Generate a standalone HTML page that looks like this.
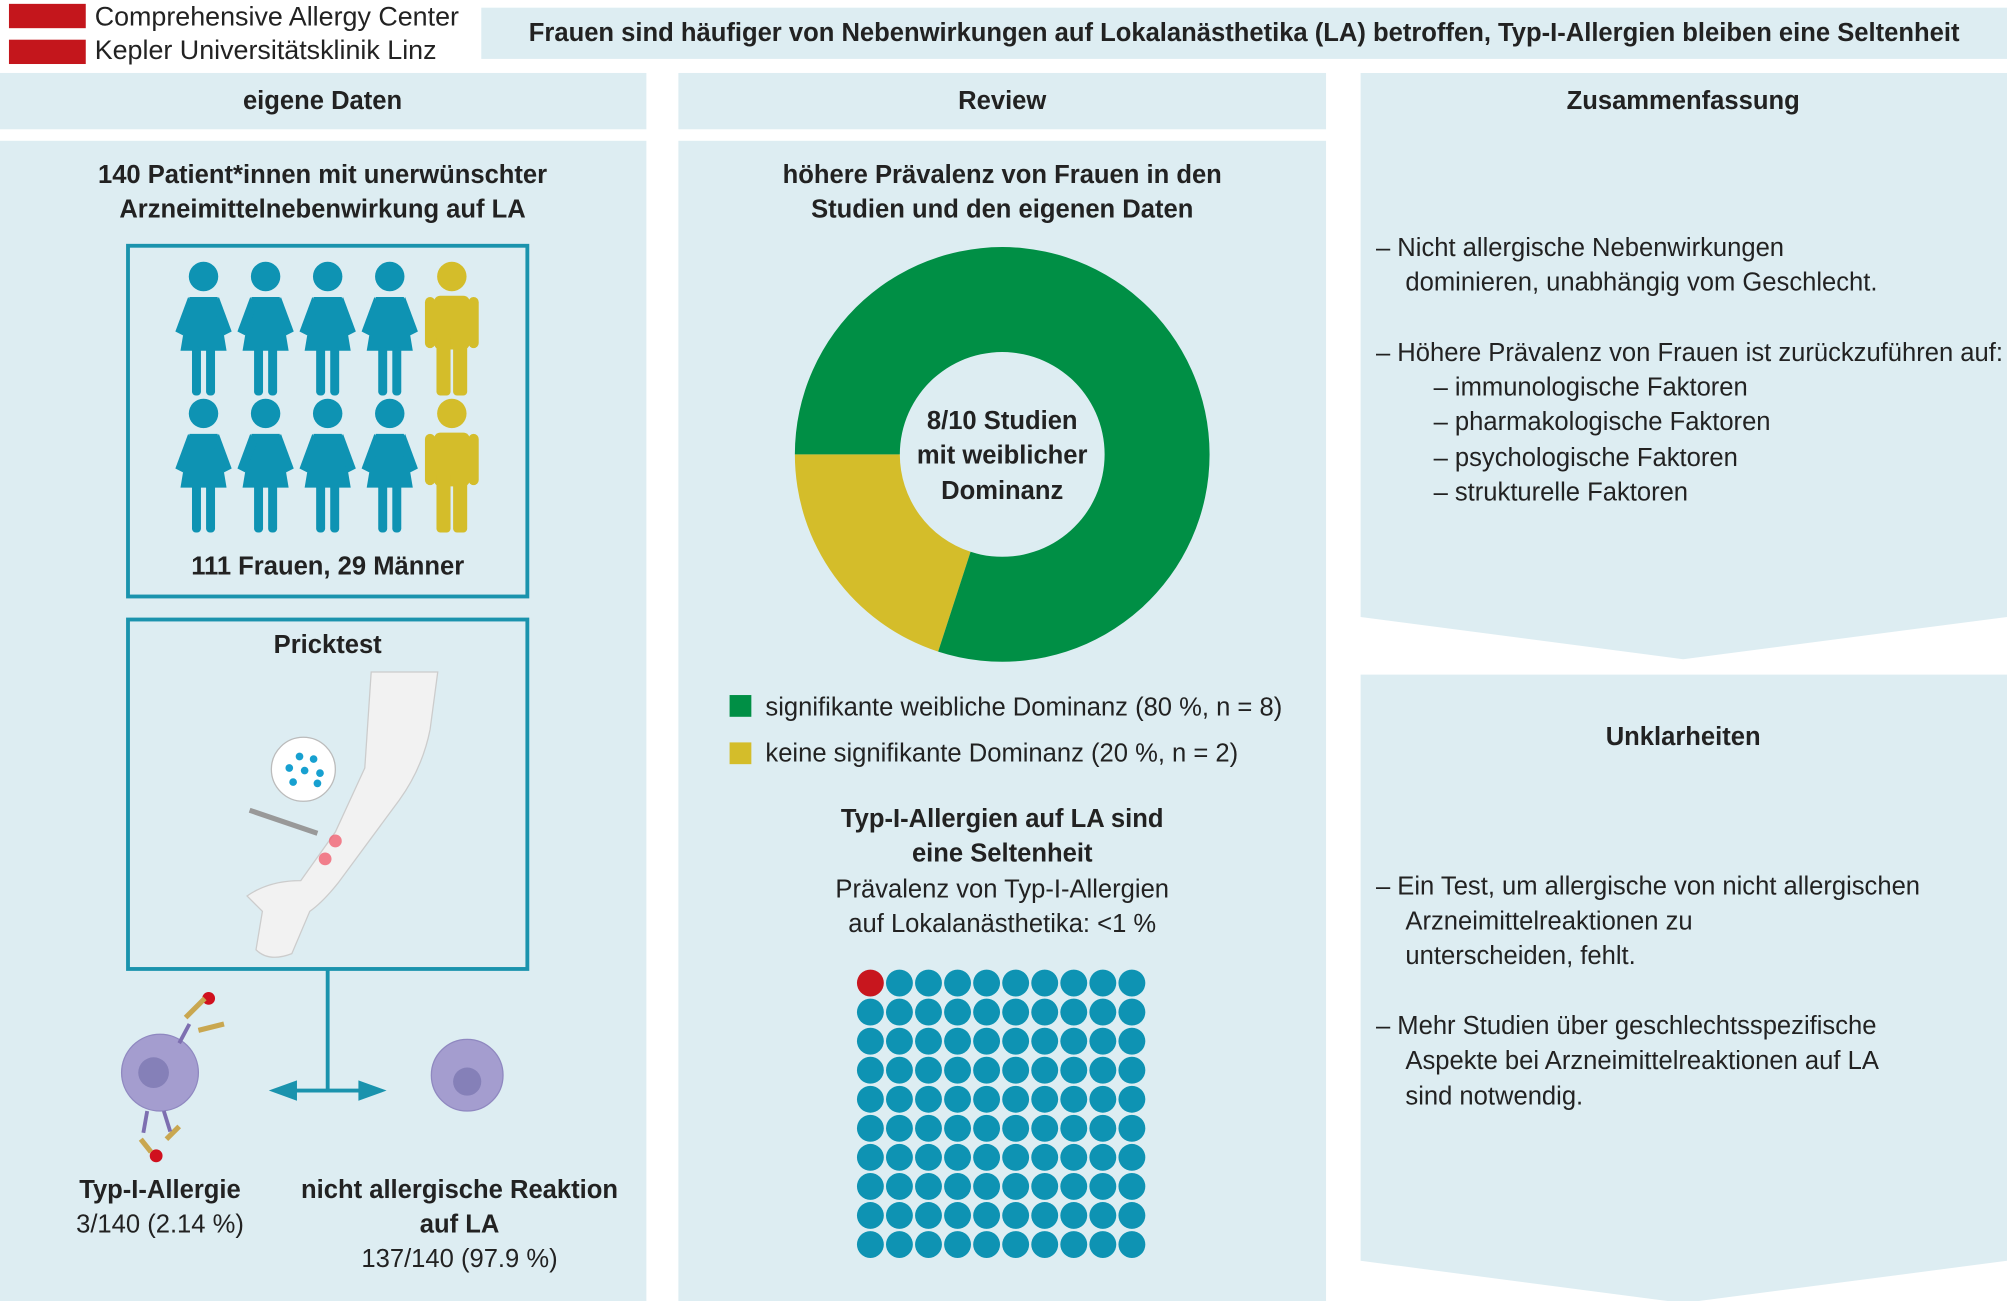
<!DOCTYPE html>
<html><head><meta charset="utf-8"><style>
html,body{margin:0;padding:0;background:#fff;}
svg{display:block;font-family:"Liberation Sans Narrow","Liberation Sans",sans-serif;}
</style></head><body>
<svg id="root" width="2007" height="1301" viewBox="0 0 1568 1016.4" xmlns="http://www.w3.org/2000/svg">
<rect width="1568" height="1017" fill="#fff"/>
<g>
<rect x="7" y="3" width="60" height="19" fill="#c4161c"/>
<rect x="7" y="31" width="60" height="19" fill="#c4161c"/>
<text x="74" y="20" font-size="21" fill="#222">Comprehensive Allergy Center</text>
<text x="74" y="46" font-size="21" fill="#222">Kepler Universitätsklinik Linz</text>
</g>
<rect x="376" y="6" width="1192" height="40" fill="#ddedf2"/>
<text x="972" y="32" font-size="20" text-anchor="middle" fill="#222" font-weight="bold">Frauen sind häufiger von Nebenwirkungen auf Lokalanästhetika (LA) betroffen, Typ-I-Allergien bleiben eine Seltenheit</text>

<rect x="0" y="57" width="505" height="44" fill="#ddedf2"/>
<rect x="0" y="110" width="505" height="907" fill="#ddedf2"/>
<rect x="530" y="57" width="506" height="44" fill="#ddedf2"/>
<rect x="530" y="110" width="506" height="907" fill="#ddedf2"/>
<polygon points="1063,57 1568,57 1568,482 1315,515 1063,482" fill="#ddedf2"/>
<polygon points="1063,527 1568,527 1568,985 1315,1018 1063,985" fill="#ddedf2"/>

<g font-size="20" fill="#222" text-anchor="middle" font-weight="bold">
<text x="252" y="85">eigene Daten</text>
<text x="783" y="85">Review</text>
<text x="1315" y="85">Zusammenfassung</text>
<text x="1315" y="582">Unklarheiten</text>
<text x="252" y="143">140 Patient*innen mit unerwünschter</text>
<text x="252" y="170">Arzneimittelnebenwirkung auf LA</text>
<text x="256" y="449">111 Frauen, 29 Männer</text>
<text x="256" y="510">Pricktest</text>
<text x="125" y="936">Typ-I-Allergie</text>
<text x="359" y="936">nicht allergische Reaktion</text>
<text x="359" y="963">auf LA</text>
<text x="783" y="143">höhere Prävalenz von Frauen in den</text>
<text x="783" y="170">Studien und den eigenen Daten</text>
<text x="783" y="335">8/10 Studien</text>
<text x="783" y="362">mit weiblicher</text>
<text x="783" y="390">Dominanz</text>
<text x="783" y="646">Typ-I-Allergien auf LA sind</text>
<text x="783" y="673">eine Seltenheit</text>
</g>
<g font-size="20" fill="#222" text-anchor="middle">
<text x="125" y="963">3/140 (2.14 %)</text>
<text x="359" y="990">137/140 (97.9 %)</text>
<text x="783" y="701">Prävalenz von Typ-I-Allergien</text>
<text x="783" y="728">auf Lokalanästhetika: &lt;1 %</text>
</g>

<g fill="none" stroke="#1a93ad" stroke-width="3">
<rect x="100" y="192" width="312" height="274"/>
<rect x="100" y="484" width="312" height="273"/>
<line x1="256" y1="757" x2="256" y2="852"/>
<line x1="225" y1="852" x2="288" y2="852"/>
</g>
<polygon points="210,852 232,844 232,860" fill="#1a93ad"/>
<polygon points="302,852 280,844 280,860" fill="#1a93ad"/>
<g id="people"></g>

<g>
<path d="M290,525 L342,525 L336,570 Q330,600 312,625 L264,690 Q252,705 242,712 L228,745 Q210,752 200,742 L205,712 L193,700 Q210,688 235,688 L262,650 L285,600 Z" fill="#f2f2f2" stroke="#ccc" stroke-width="1"/>
<circle cx="237" cy="601" r="25" fill="#fff" stroke="#bbb"/>
<g fill="#17a0d0"><circle cx="234" cy="591" r="3"/><circle cx="245" cy="593" r="3"/><circle cx="226" cy="600" r="3"/><circle cx="238" cy="602" r="3"/><circle cx="250" cy="604" r="3"/><circle cx="229" cy="611" r="3"/><circle cx="248" cy="612" r="3"/></g>
<line x1="195" y1="633" x2="248" y2="651" stroke="#999" stroke-width="4"/>
<circle cx="262" cy="657" r="5" fill="#f06070" opacity="0.8"/>
<circle cx="254" cy="671" r="5" fill="#f06070" opacity="0.8"/>
</g>
<g>
<circle cx="125" cy="838" r="30" fill="#a49dcf" stroke="#8f88c0"/>
<circle cx="120" cy="838" r="12" fill="#8580b8"/>
<circle cx="163" cy="780" r="5" fill="#d0101e"/>
<circle cx="122" cy="903" r="5" fill="#d0101e"/>
<g stroke="#c9a750" stroke-width="4"><line x1="145" y1="795" x2="160" y2="780"/><line x1="155" y1="805" x2="175" y2="800"/><line x1="110" y1="890" x2="118" y2="900"/><line x1="130" y1="890" x2="140" y2="880"/></g>
<g stroke="#7d6fb0" stroke-width="3"><line x1="140" y1="815" x2="148" y2="800"/><line x1="115" y1="868" x2="112" y2="885"/><line x1="128" y1="868" x2="133" y2="884"/></g>
</g>
<g>
<circle cx="365" cy="840" r="28" fill="#a49dcf" stroke="#8f88c0"/>
<circle cx="365" cy="845" r="11" fill="#8580b8"/>
</g>

<g id="donut"></g>
<g>
<rect x="570" y="543" width="17" height="17" fill="#008f45"/>
<rect x="570" y="580" width="17" height="17" fill="#d4bd2a"/>
<text x="598" y="559" font-size="20" fill="#222">signifikante weibliche Dominanz (80 %, n = 8)</text>
<text x="598" y="595" font-size="20" fill="#222">keine signifikante Dominanz (20 %, n = 2)</text>
</g>
<g id="dots"></g>

<g font-size="20" fill="#222">
<text x="1075" y="200">–  Nicht allergische Nebenwirkungen</text>
<text x="1098" y="227">dominieren, unabhängig vom Geschlecht.</text>
<text x="1075" y="282">–  Höhere Prävalenz von Frauen ist zurückzuführen auf:</text>
<text x="1120" y="309">– immunologische Faktoren</text>
<text x="1120" y="336">– pharmakologische Faktoren</text>
<text x="1120" y="364">– psychologische Faktoren</text>
<text x="1120" y="391">– strukturelle Faktoren</text>
<text x="1075" y="699">–  Ein Test, um allergische von nicht allergischen</text>
<text x="1098" y="726">Arzneimittelreaktionen zu</text>
<text x="1098" y="753">unterscheiden, fehlt.</text>
<text x="1075" y="808">–  Mehr Studien über geschlechtsspezifische</text>
<text x="1098" y="835">Aspekte bei Arzneimittelreaktionen auf LA</text>
<text x="1098" y="863">sind notwendig.</text>
</g>
</svg>
<script>
var NS='http://www.w3.org/2000/svg';
function mk(t,a,p){var e=document.createElementNS(NS,t);for(var k in a)e.setAttribute(k,a[k]);p.appendChild(e);return e;}
var peopleRows=[['f','f','f','f','m'],['f','f','f','f','m']];
var pg=document.getElementById('people');
var px0=159,pdx=48.5,py0=216,pdy=107;
peopleRows.forEach(function(row,r){row.forEach(function(s,i){
 var x=px0+i*pdx,y=py0+r*pdy,c=s==='f'?'#0e93b3':'#d4bd2a';
 var g=mk('g',{fill:c},pg);
 
 
 mk('circle',{cx:x,cy:y,r:11.5},g);
 if(s==='f'){
  mk('path',{d:'M'+(x-11)+','+(y+16)+' L'+(x+11)+','+(y+16)+' L'+(x+18)+','+(y+58)+' L'+(x-18)+','+(y+58)+'Z'},g);
  mk('rect',{x:x-9,y:y+55,width:7,height:38,rx:3},g);
  mk('rect',{x:x+2,y:y+55,width:7,height:38,rx:3},g);
  mk('path',{d:'M'+(x-12)+','+(y+16)+' L'+(x-22)+','+(y+43)+' L'+(x-16)+','+(y+46)+' L'+(x-7)+','+(y+24)+'Z'},g);
  mk('path',{d:'M'+(x+12)+','+(y+16)+' L'+(x+22)+','+(y+43)+' L'+(x+16)+','+(y+46)+' L'+(x+7)+','+(y+24)+'Z'},g);
 }else{
  mk('rect',{x:x-14,y:y+15,width:28,height:42,rx:5},g);
  mk('rect',{x:x-21,y:y+16,width:8,height:40,rx:4},g);
  mk('rect',{x:x+13,y:y+16,width:8,height:40,rx:4},g);
  mk('rect',{x:x-12,y:y+45,width:11,height:48,rx:3},g);
  mk('rect',{x:x+1,y:y+45,width:11,height:48,rx:3},g);
 }
});});
var donutLabels=['signifikante weibliche Dominanz','keine signifikante Dominanz'];
var donutValues=[8,2];
var donutColors=['#008f45','#d4bd2a'];
var dg=document.getElementById('donut');
var cx=783,cy=355,R=162,r0=80,total=donutValues.reduce(function(a,b){return a+b;},0);
var start=270-360*donutValues[1]/total;
var order=[1,0],a=start;
function pt(ang,rad){var t=ang*Math.PI/180;return [cx+rad*Math.sin(t),cy-rad*Math.cos(t)];}
order.forEach(function(k){
 var sweep=360*donutValues[k]/total,b=a+sweep,lg=sweep>180?1:0;
 var p1=pt(a,R),p2=pt(b,R),p3=pt(b,r0),p4=pt(a,r0);
 var p=mk('path',{d:'M'+p1+' A'+R+','+R+' 0 '+lg+' 1 '+p2+' L'+p3+' A'+r0+','+r0+' 0 '+lg+' 0 '+p4+'Z',fill:donutColors[k]},dg);
 
 
 a=b;
});
var dotTotal=100;
var dotAllergic=1;
var dg2=document.getElementById('dots');
for(var i=0;i<dotTotal;i++){
 var c=mk('circle',{cx:680+(i%10)*22.7,cy:768+Math.floor(i/10)*22.7,r:10.5,fill:i<dotAllergic?'#c8161e':'#0e93b3'},dg2);
 
 
}
</script>
</body></html>
